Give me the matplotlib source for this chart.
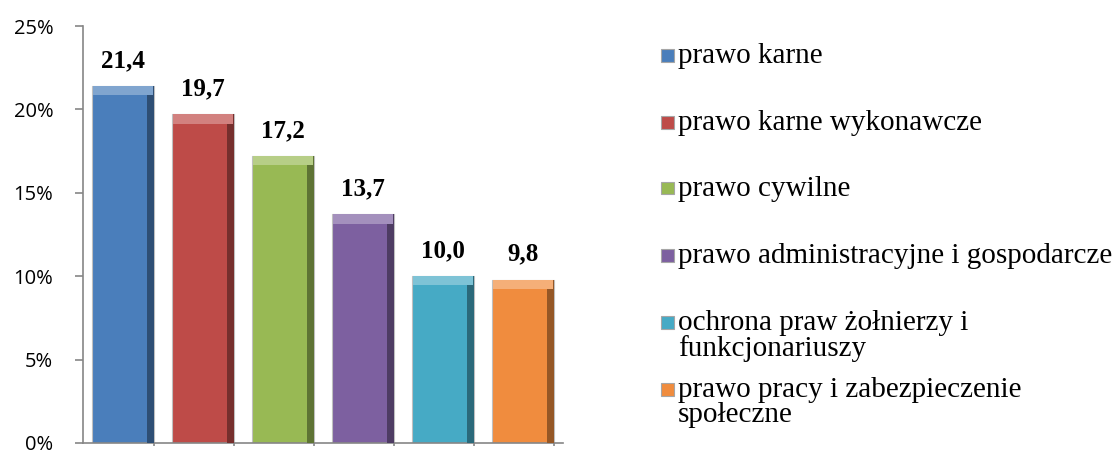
import matplotlib
matplotlib.use("Agg")
import matplotlib.pyplot as plt
from matplotlib.patches import Rectangle
import numpy as np

# data
categories = [
    "prawo karne",
    "prawo karne wykonawcze",
    "prawo cywilne",
    "prawo administracyjne i gospodarcze",
    "ochrona praw żołnierzy i\nfunkcjonariuszy",
    "prawo pracy i zabezpieczenie\nspołeczne",
]
values = [21.4, 19.7, 17.2, 13.7, 10.0, 9.8]
colors = ["#4A7EBB", "#BE4B48", "#98B954", "#7D60A0", "#46AAC5", "#F08C3E"]
y_ticks = [0, 5, 10, 15, 20, 25]


def shade(c, f):
    """Darken (f<1) or lighten (f>1) a hex colour."""
    rgb = np.array(matplotlib.colors.to_rgb(c))
    if f < 1:
        rgb = rgb * f
    else:
        rgb = rgb + (1 - rgb) * (f - 1)
    return tuple(np.clip(rgb, 0, 1))


def main():
    fig = plt.figure(figsize=(11.18, 4.5), dpi=100)
    W, H = 1118, 450
    ax = fig.add_axes([83 / W, 7 / H, 480 / W, 417 / H])

    x = np.arange(len(values))
    width = 0.775
    axis_grey = "#868686"

    # main bars
    ax.bar(x, values, width=width, color=colors, edgecolor="#BFBFBF",
           linewidth=0.8, zorder=2)
    # bevel: darker right side, lighter top strip
    side = 0.09
    ax.bar(x + width / 2 - side / 2, values, width=side,
           color=[shade(c, 0.62) for c in colors], linewidth=0, zorder=3)
    top_h = 0.55
    ax.bar(x, [top_h] * len(values), bottom=np.array(values) - top_h,
           width=width - 0.02, color=[shade(c, 1.3) for c in colors],
           linewidth=0, zorder=3)

    # value labels
    for xi, v in zip(x, values):
        ax.annotate(f"{v:.1f}".replace(".", ","), (xi, v),
                    xytext=(0, 13.5), textcoords="offset points",
                    ha="center", va="baseline", fontsize=18,
                    fontweight="bold", family="Liberation Serif")

    ax.set_xlim(-0.5, 5.5)
    ax.set_ylim(0, 25)
    ax.set_yticks(y_ticks)
    ax.set_yticklabels([f"{t}%" for t in y_ticks], family="Open Sans",
                       fontsize=14.5)
    ax.set_xticks(x + 0.39)
    ax.set_xticklabels([])

    for s in ("top", "right"):
        ax.spines[s].set_visible(False)
    for s in ("left", "bottom"):
        ax.spines[s].set_color(axis_grey)
        ax.spines[s].set_linewidth(1.2)
    ax.tick_params(axis="y", length=5.5, width=1.2, color=axis_grey, pad=16)
    ax.tick_params(axis="x", length=2.5, width=1.2, color=axis_grey)

    # legend drawn by hand to keep Excel-like spacing
    row_y = [55, 122, 188, 255, 322, 389]
    for lab, col, yc in zip(categories, colors, row_y):
        sq = 13
        fig.patches.append(Rectangle((661 / W, (H - yc - sq / 2) / H),
                                     sq / W, sq / H, transform=fig.transFigure,
                                     facecolor=col, edgecolor="#A6A6A6",
                                     linewidth=0.8))
        fig.text(678 / W, (H - yc + 12) / H, lab, ha="left", va="top",
                 fontsize=21, family="Liberation Serif", linespacing=0.97)

    fig.savefig("out.png", dpi=100)


if __name__ == "__main__":
    main()
